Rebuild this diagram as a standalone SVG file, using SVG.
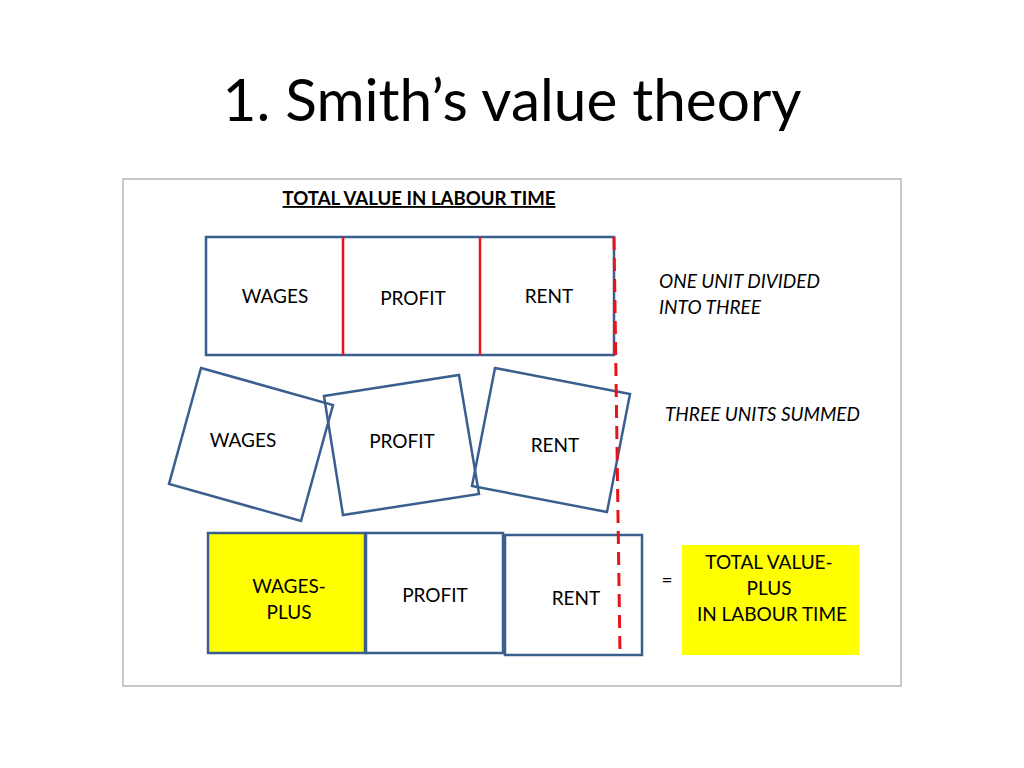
<svg xmlns="http://www.w3.org/2000/svg" width="1024" height="768" viewBox="0 0 1024 768">
<style>
text{font-family:Lato,"Liberation Sans",sans-serif;fill:#000}
.t{font-size:19px}
.c{text-anchor:middle}
.i{font-style:italic}
.box{fill:none;stroke:#3a5f8f;stroke-width:2.5}
.ybox{fill:#ffff00;stroke:#3a5f8f;stroke-width:2.5}
.red{stroke:#e8141b;stroke-width:2.5}
.dash{stroke:#e8141b;stroke-width:3;stroke-dasharray:13,8;fill:none}
</style>
<rect width="1024" height="768" fill="#fff"/>
<text x="512" y="121" class="c" style="font-size:58.5px">1. Smith’s value theory</text>
<rect x="123" y="179" width="778" height="507" fill="none" stroke="#a6a6a6" stroke-width="1.2"/>
<g id="heading">
<text x="419" y="205" class="t c" style="font-weight:bold;text-decoration:underline;font-size:18.6px">TOTAL VALUE IN LABOUR TIME</text>
</g>
<g id="unit">
<rect x="206" y="237" width="408" height="118" class="box"/>
<line x1="343" y1="237" x2="343" y2="355" class="red"/>
<line x1="480" y1="237" x2="480" y2="355" class="red"/>
<text x="275" y="303" class="t c">WAGES</text>
<text x="413" y="305" class="t c">PROFIT</text>
<text x="549" y="303" class="t c">RENT</text>
</g>
<g id="label-divided">
<text x="659" y="288" class="t i">ONE UNIT DIVIDED</text>
<text x="659" y="314" class="t i">INTO THREE</text>
</g>
<g id="wages-tilted">
<polygon points="201,368 333,405 301,521 169,484" class="box"/>
<text x="243" y="447" class="t c">WAGES</text>
</g>
<g id="profit-tilted">
<polygon points="324,396 459,375 479,494 343,515" class="box"/>
<text x="402" y="448" class="t c">PROFIT</text>
</g>
<g id="rent-tilted">
<polygon points="495,368 630,394 607,512 472,486" class="box"/>
<text x="555" y="452" class="t c">RENT</text>
</g>
<g id="label-summed">
<text x="665" y="421" class="t i">THREE UNITS SUMMED</text>
</g>
<g id="wages-plus">
<rect x="208" y="533" width="157" height="120" class="ybox"/>
<text x="289" y="593" class="t c">WAGES-</text>
<text x="289" y="619" class="t c">PLUS</text>
</g>
<g id="profit-bottom">
<rect x="366" y="533" width="137" height="120" class="box"/>
<text x="435" y="602" class="t c">PROFIT</text>
</g>
<g id="rent-bottom">
<rect x="505" y="535" width="137" height="120" class="box"/>
<text x="576" y="605" class="t c">RENT</text>
</g>
<text x="667" y="587" class="t c">=</text>
<g id="total">
<rect x="682" y="545" width="177" height="110" fill="#ffff00"/>
<text x="769" y="569" class="t c">TOTAL VALUE-</text>
<text x="769" y="595" class="t c">PLUS</text>
<text x="772" y="621" class="t c">IN LABOUR TIME</text>
</g>
<g id="connectors">
<line x1="614" y1="237" x2="620" y2="655" class="dash"/>
</g>
</svg>
